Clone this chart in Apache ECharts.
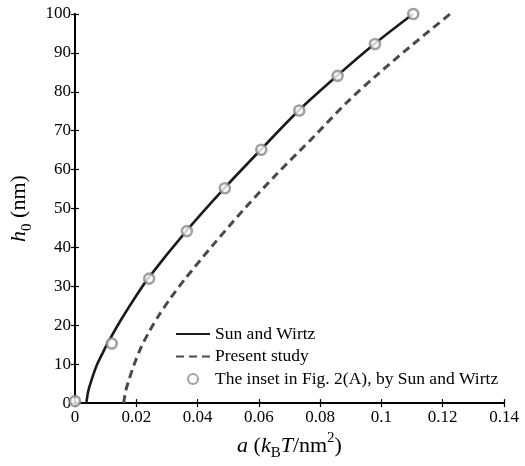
<!DOCTYPE html>
<html>
<head>
<meta charset="utf-8">
<script src="https://cdn.jsdelivr.net/npm/echarts@6/dist/echarts.min.js"></script>
<style>html,body{margin:0;padding:0;background:#fff;}#c{width:525px;height:466px;}</style>
</head>
<body>
<div id="c"></div>
<script>
// Data
var seriesNames = ['Sun and Wirtz', 'Present study', 'The inset in Fig. 2(A), by Sun and Wirtz'];
var sunWirtzX = [0.0037, 0.0043, 0.0053, 0.0072, 0.0093, 0.0104, 0.0141, 0.0195, 0.0238, 0.0363, 0.0487, 0.0606, 0.0730, 0.0855, 0.0977, 0.1103];
var sunWirtzY = [0, 3, 5.7, 9.9, 13.3, 15, 20.2, 27, 32, 44.2, 55.2, 65.1, 75.2, 84.1, 92.3, 100];
var presentX = [0.0159, 0.0165, 0.0175, 0.0193, 0.0215, 0.0243, 0.0275, 0.0312, 0.0360, 0.0450, 0.0558, 0.0660, 0.0782, 0.0890, 0.0988, 0.1092, 0.1224];
var presentY = [0, 3, 5.7, 9.9, 14.2, 18.5, 22.7, 27, 32, 40.6, 50.4, 59, 68.7, 77.5, 84.5, 91.5, 100];
var insetX = [0, 0.012, 0.0242, 0.0365, 0.0489, 0.0608, 0.0732, 0.0857, 0.0979, 0.1104];
var insetY = [0.5, 15.3, 32.0, 44.2, 55.2, 65.1, 75.2, 84.1, 92.3, 100];
var xTicks = [0, 0.02, 0.04, 0.06, 0.08, 0.1, 0.12, 0.14];
var yTicks = [0, 10, 20, 30, 40, 50, 60, 70, 80, 90, 100];

function pairs(xs, ys) { return xs.map(function (x, i) { return [x, ys[i]]; }); }

var serif = 'Liberation Serif';
var axisLineStyle = { color: '#000', width: 2 };
var tickStyle = { show: true, inside: true, length: 4, lineStyle: { color: '#000', width: 1.2 } };

var titleRich = {
  n: { fontFamily: serif, fontSize: 22, color: '#000', lineHeight: 30, verticalAlign: 'middle' },
  i: { fontFamily: serif, fontSize: 22, fontStyle: 'italic', color: '#000', lineHeight: 30, verticalAlign: 'middle' },
  s: { fontFamily: serif, fontSize: 15, color: '#000', lineHeight: 14, verticalAlign: 'bottom' },
  p: { fontFamily: serif, fontSize: 15, color: '#000', lineHeight: 14, verticalAlign: 'top' }
};

var chart = echarts.init(document.getElementById('c'), null, { renderer: 'canvas' });
chart.setOption({
  animation: false,
  backgroundColor: '#fff',
  grid: { left: 75, right: 21, top: 14, bottom: 61, containLabel: false },
  legend: {
    orient: 'vertical',
    left: 175,
    top: 325,
    padding: 0,
    itemWidth: 34,
    itemHeight: 10,
    itemGap: 4.5,
    textStyle: { fontFamily: serif, fontSize: 17.5, color: '#000' },
    data: [
      { name: seriesNames[0], itemStyle: { opacity: 0 } },
      { name: seriesNames[1], itemStyle: { opacity: 0 } },
      { name: seriesNames[2] }
    ]
  },
  xAxis: [{
    type: 'value', min: xTicks[0], max: xTicks[xTicks.length - 1], interval: 0.02,
    position: 'bottom',
    axisLine: { show: true, lineStyle: axisLineStyle },
    axisTick: tickStyle,
    splitLine: { show: false },
    axisLabel: { fontFamily: serif, fontSize: 17, color: '#000', margin: 6 },
    name: '{i|a}{n| (}{i|k}{s|B}{i|T}{n|/nm}{p|2}{n|)}',
    nameLocation: 'middle', nameGap: 20,
    nameTextStyle: { rich: titleRich }
  }, {
    type: 'value', min: xTicks[0], max: xTicks[xTicks.length - 1], interval: 0.02,
    position: 'top',
    axisLine: { show: true, lineStyle: axisLineStyle },
    axisTick: tickStyle,
    splitLine: { show: false },
    axisLabel: { show: false }
  }],
  yAxis: [{
    type: 'value', min: yTicks[0], max: yTicks[yTicks.length - 1], interval: 10,
    position: 'left',
    axisLine: { show: true, lineStyle: axisLineStyle },
    axisTick: tickStyle,
    splitLine: { show: false },
    axisLabel: { fontFamily: serif, fontSize: 17, color: '#000', margin: 4 },
    name: '{i|h}{s|0}{n| (nm)}',
    nameLocation: 'middle', nameGap: 17,
    nameTextStyle: { rich: titleRich }
  }, {
    type: 'value', min: yTicks[0], max: yTicks[yTicks.length - 1], interval: 10,
    position: 'right',
    axisLine: { show: true, lineStyle: axisLineStyle },
    axisTick: tickStyle,
    splitLine: { show: false },
    axisLabel: { show: false }
  }],
  series: [{
    name: seriesNames[0], type: 'line', xAxisIndex: 0, yAxisIndex: 0,
    data: pairs(sunWirtzX, sunWirtzY), symbol: 'none', smooth: 0.3,
    lineStyle: { color: '#1a1a1a', width: 2.6 }, itemStyle: { color: '#1a1a1a' }, z: 3
  }, {
    name: seriesNames[1], type: 'line', xAxisIndex: 0, yAxisIndex: 0,
    data: pairs(presentX, presentY), symbol: 'none', smooth: 0.3,
    lineStyle: { color: '#4a4a4a', width: 3, type: [8, 5] }, itemStyle: { color: '#4a4a4a' }, z: 2
  }, {
    name: seriesNames[2], type: 'scatter', xAxisIndex: 0, yAxisIndex: 0,
    data: pairs(insetX, insetY), symbol: 'circle', symbolSize: 10,
    itemStyle: { color: '#fff', borderColor: '#8a8a8a', borderWidth: 2.6 }, z: 4
  }]
});
</script>
</body>
</html>
